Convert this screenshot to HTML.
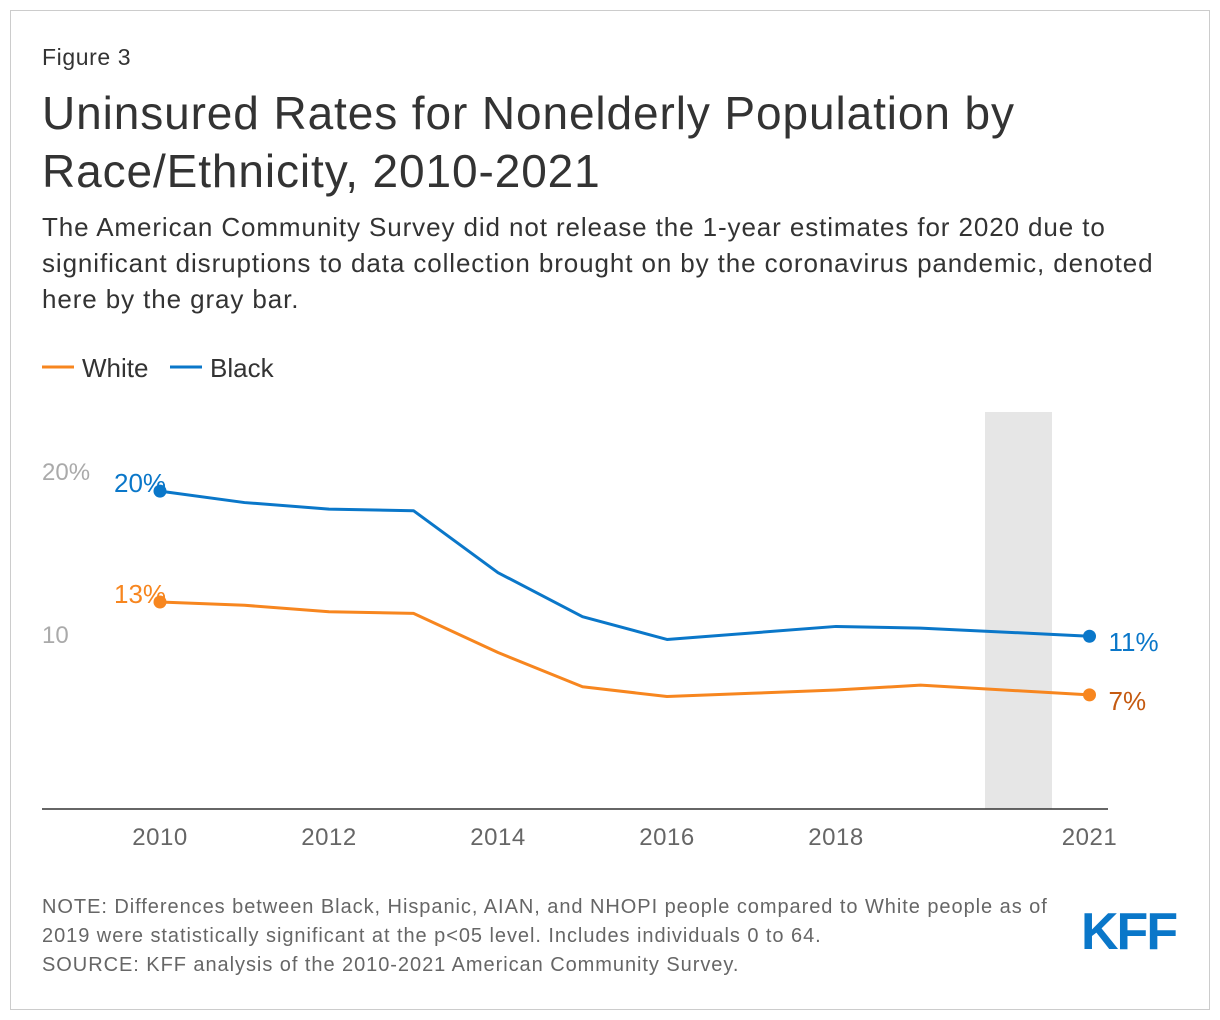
<!DOCTYPE html>
<html><head><meta charset="utf-8"><style>
body{margin:0;background:#fff;font-family:"Liberation Sans",sans-serif;}
#frame{position:absolute;left:10px;top:10px;width:1198px;height:998px;border:1px solid #ccc;}
.t{position:absolute;white-space:nowrap;}
</style></head><body>
<div id="frame"></div>
<div class="t" style="left:42px;top:44px;font-size:23px;letter-spacing:0.6px;color:#333">Figure 3</div>
<div class="t" style="left:42px;top:84px;font-size:46px;letter-spacing:0.9px;line-height:58px;color:#333">Uninsured Rates for Nonelderly Population by<br>Race/Ethnicity, 2010-2021</div>
<div class="t" style="left:42px;top:209px;font-size:26px;letter-spacing:0.9px;line-height:36px;color:#333">The American Community Survey did not release the 1-year estimates for 2020 due to<br>significant disruptions to data collection brought on by the coronavirus pandemic, denoted<br>here by the gray bar.</div>
<div class="t" style="left:42px;top:893px;font-size:20px;letter-spacing:0.95px;line-height:29px;color:#666">NOTE: Differences between Black, Hispanic, AIAN, and NHOPI people compared to White people as of<br>2019 were statistically significant at the p&lt;05 level. Includes individuals 0 to 64.<br>SOURCE: KFF analysis of the 2010-2021 American Community Survey.</div>
<div class="t" style="left:1081px;top:902px;font-size:52px;font-weight:bold;color:#0a77c9;letter-spacing:-2px">KFF</div>
<svg id="chart" width="1220" height="1020" style="position:absolute;left:0;top:0"></svg>
<script>
const years=[2010,2011,2012,2013,2014,2015,2016,2017,2018,2019,2021];
const white=[12.7,12.5,12.1,12.0,9.6,7.5,6.9,7.1,7.3,7.6,7.0];
const black=[19.5,18.8,18.4,18.3,14.5,11.8,10.4,10.8,11.2,11.1,10.6];
const xTicks=[2010,2012,2014,2016,2018,2021];
const yTicks=[10,20];
const yTickLabels=["10","20%"];
const gapYear=2020;
const NS="http://www.w3.org/2000/svg";
const svg=document.getElementById('chart');
const x=y=>160+(y-2010)*84.5;
const yS=v=>809-16.3*v;
function el(t,a){const e=document.createElementNS(NS,t);for(const k in a)e.setAttribute(k,a[k]);svg.appendChild(e);return e;}
const gb=el('rect',{x:x(gapYear)-20,y:412,width:67,height:397,fill:'#e6e6e6'});


const ax=el('line',{x1:42,x2:1108,y1:809,y2:809,stroke:'#333','stroke-width':1.5});


xTicks.forEach(t=>{const e=el('text',{x:x(t),y:845,'text-anchor':'middle','font-size':24,'letter-spacing':0.5,fill:'#666'});e.textContent=t;

});
yTicks.forEach((t,i)=>{const e=el('text',{x:42,y:yS(t)-3,'font-size':24,fill:'#aaa'});e.textContent=yTickLabels[i];

});
function series(vals,color,name,lc){
  const p=el('polyline',{points:vals.map((v,i)=>x(years[i])+','+yS(v)).join(' '),fill:'none',stroke:color,'stroke-width':3,'stroke-linejoin':'round'});
  
  
  [0,vals.length-1].forEach(i=>{const c=el('circle',{cx:x(years[i]),cy:yS(vals[i]),r:6.5,fill:color});
  
  });
  const a=el('text',{x:x(years[0])-46,y:yS(vals[0])+1,'font-size':26,fill:color});a.textContent=Math.round(vals[0])+'%';
  
  
  const n=vals.length-1;
  const b=el('text',{x:x(years[n])+19,y:yS(vals[n])+15,'font-size':26,fill:lc});b.textContent=Math.round(vals[n])+'%';
  
  
}
series(black,'#0a77c9','black','#0a77c9');
series(white,'#f7861f','white','#c55a11');
[['White','#f7861f',42],['Black','#0a77c9',170]].forEach(([n,c,lx])=>{
  const l=el('line',{x1:lx,x2:lx+32,y1:367,y2:367,stroke:c,'stroke-width':3});
  
  
  const t=el('text',{x:lx+40,y:377,'font-size':26,fill:'#333'});t.textContent=n;
  
  
});
</script>
</body></html>
